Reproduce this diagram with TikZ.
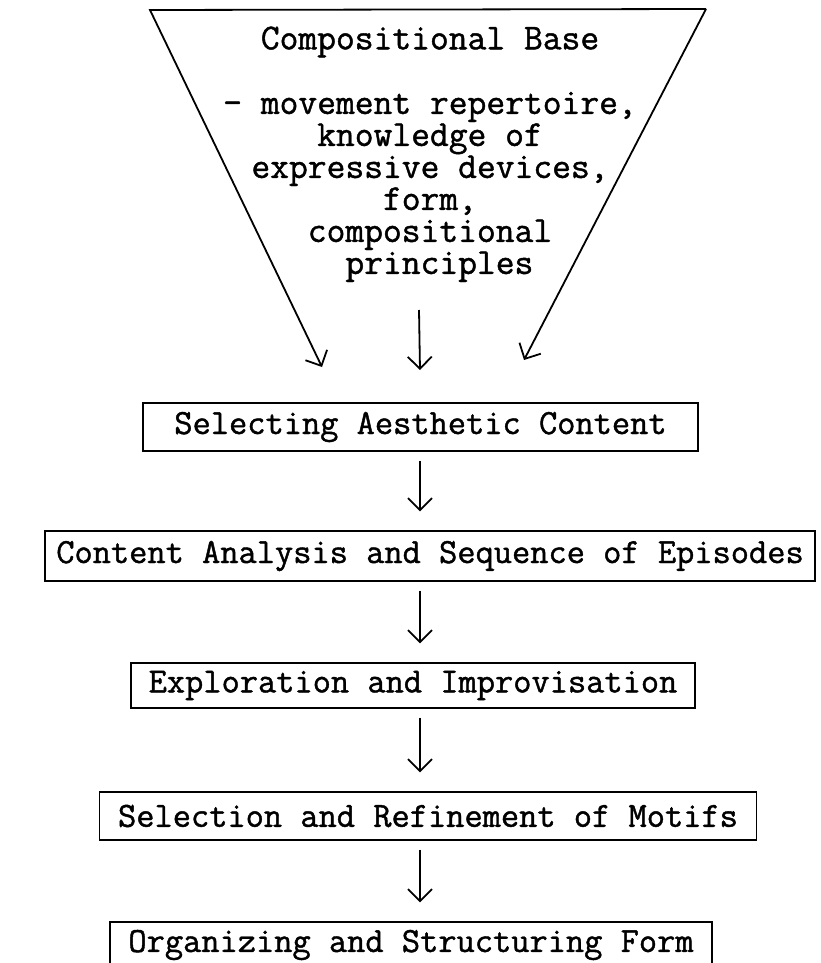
\documentclass[tikz,border=0pt]{standalone}
\usepackage{fontspec}
\setmainfont{Latin Modern Mono}[FakeBold=1.2]
\usetikzlibrary{arrows.meta}

\begin{document}
\begin{tikzpicture}[x=1pt,y=-1pt,font=\fontsize{35.4}{32}\selectfont,
    box/.style={draw,line width=1.4pt,inner sep=0pt},
    funnel/.style={font=\fontsize{36.5}{32}\selectfont},
    flow/.style={line width=1.8pt,-{Straight Barb[length=12pt,width=24pt]}},
    link/.style={flow,shorten <=9pt,shorten >=19pt}]
    \useasboundingbox (0,0) rectangle (820,963);
    \clip (0,0) rectangle (820,963);

    % The funnel of the compositional base
    \coordinate (tl) at (150,10);
    \coordinate (tr) at (706,9);
    \coordinate (ltip) at (322,367);
    \coordinate (mtop) at (419,310);
    \coordinate (mtip) at (420,370);
    \coordinate (rtip) at (524,360);
    \draw[flow] (tr) -- (tl) -- (ltip);
    \draw[flow] (tr) -- (rtip);
    \draw[flow] (mtop) -- (mtip);

    \node[funnel] (title) at (430,42) {Compositional Base};
    \node[funnel,align=center,inner sep=0pt] (base) at (430,187)
        {- movement repertoire,\\knowledge of\\expressive devices,\\form,\\compositional\\\mbox{\ principles}};

    % The steps
    \node[box,minimum width=555pt,minimum height=48pt] (select) at (420.5,427) {Selecting Aesthetic Content};
    \node[box,minimum width=770pt,minimum height=50pt] (analysis) at (430,556) {Content Analysis and Sequence of Episodes};
    \node[box,minimum width=564pt,minimum height=45pt] (explore) at (413,685.5) {Exploration and Improvisation};
    \node[box,minimum width=657pt,minimum height=48pt] (motifs) at (428,816) {Selection and Refinement of Motifs};
    \node[box,minimum width=602pt,minimum height=46pt] (form) at (411,945) {Organizing and Structuring Form};

    % Arrows between the steps
    \coordinate (axis) at (420,0);
    \draw[link] (axis |- select.south) -- (axis |- analysis.north);
    \draw[link] (axis |- analysis.south) -- (axis |- explore.north);
    \draw[link] (axis |- explore.south) -- (axis |- motifs.north);
    \draw[link] (axis |- motifs.south) -- (axis |- form.north);
\end{tikzpicture}
\end{document}
